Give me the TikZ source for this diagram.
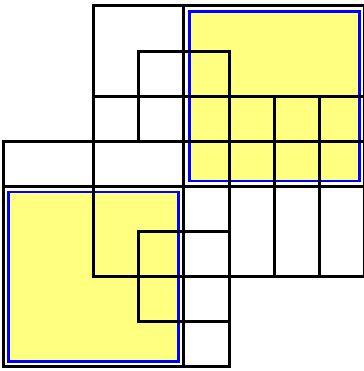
\documentclass[tikz,border=0pt]{standalone}
\definecolor{padyellow}{RGB}{255,255,128}
\tikzset{
  gridline/.style={line width=3pt, line cap=rect, line join=miter, draw=black},
  patch/.style={fill=padyellow, draw=blue, line width=2.2pt}
}
\begin{document}
\begin{tikzpicture}[x=45.25pt,y=-45.125pt]
\useasboundingbox (-0.0663,-0.133) rectangle (7.978,8.089);
% yellow patches
\draw[patch] (4.12,0.12) rectangle (7.88,3.88);
\draw[patch] (0.12,4.12) rectangle (3.88,7.88);
% grid lines
\draw[gridline] (2,6) -- (2,0) -- (8,0) -- (8,6);
\draw[gridline] (3,3) -- (3,1) -- (5,1) -- (5,8) -- (0,8) -- (0,3) -- (8,3);
\draw[gridline] (2,2) -- (8,2);
\draw[gridline] (0,4) -- (8,4);
\draw[gridline] (4,0) -- (4,8);
\draw[gridline] (6,2) -- (6,6);
\draw[gridline] (7,2) -- (7,6);
\draw[gridline] (2,6) -- (8,6);
\draw[gridline] (3,5) -- (5,5);
\draw[gridline] (3,7) -- (5,7);
\draw[gridline] (3,5) -- (3,7);
\end{tikzpicture}
\end{document}
